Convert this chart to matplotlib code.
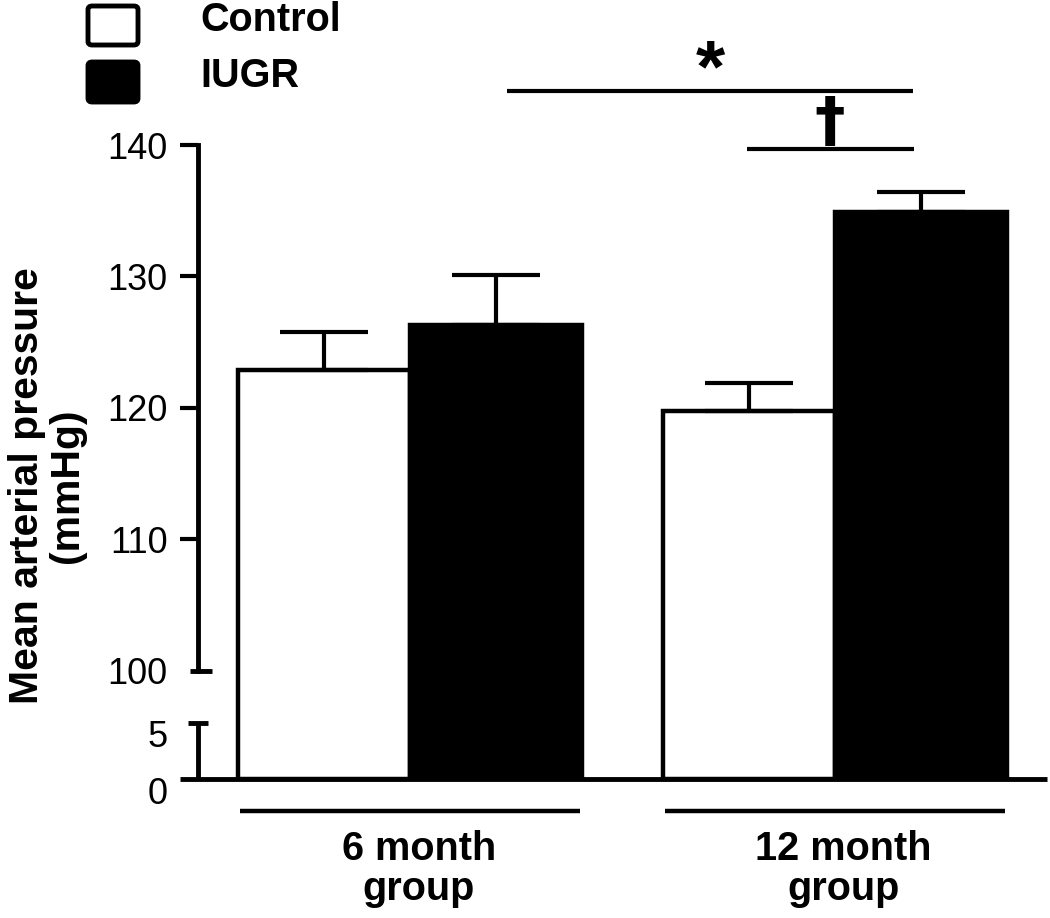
import numpy as np
import matplotlib
matplotlib.use("Agg")
import matplotlib.pyplot as plt
from matplotlib.patches import FancyBboxPatch
import matplotlib.transforms as mtransforms

plt.rcParams['font.family'] = ['Liberation Sans', 'DejaVu Sans']

# ---------------- data ----------------
groups = ["6 month\ngroup", "12 month\ngroup"]
series = ["Control", "IUGR"]
control_vals = [122.9, 119.8]
control_err = [2.9, 2.1]
iugr_vals = [126.3, 134.9]
iugr_err = [3.8, 1.5]
ytick_vals = [0, 5, 100, 110, 120, 130, 140]
ytick_labels = ["0", "5", "100", "110", "120", "130", "140"]
ylabel = "Mean arterial pressure\n(mmHg)"

# ---------------- broken y scale ----------------
Y_KN = np.array([-1000.0, 0.0, 5.0, 100.0, 140.0, 1000.0])
T_KN = np.array([-11200.0, 0.0, 56.0, 108.0, 633.0, 11920.5])

def fwd(y):
    return np.interp(y, Y_KN, T_KN)

def inv(t):
    return np.interp(t, T_KN, Y_KN)

W, H = 1050, 918
fig = plt.figure(figsize=(W / 100, H / 100), dpi=100)
ax_l, ax_r, ax_t, ax_b = 198, 1047, 145, 779
ax = fig.add_axes([ax_l / W, 1 - ax_b / H, (ax_r - ax_l) / W, (ax_b - ax_t) / H])
ax.set_yscale('function', functions=(fwd, inv))
ax.set_ylim(0, 140)
ax.set_xlim(-0.5, 1.5)

x = np.arange(len(groups), dtype=float)
bw = 0.405
xc = x - bw / 2
xi = x + bw / 2

lw = 3.2
ax.bar(xc, control_vals, width=bw, color='white', edgecolor='black', linewidth=lw, zorder=2)
ax.bar(xi, iugr_vals, width=bw, color='black', edgecolor='black', linewidth=lw, zorder=2)
ax.errorbar(xc, control_vals, yerr=[np.zeros(len(groups)), control_err], fmt='none',
            ecolor='black', elinewidth=3, capsize=32, capthick=3, zorder=3)
ax.errorbar(xi, iugr_vals, yerr=[np.zeros(len(groups)), iugr_err], fmt='none',
            ecolor='black', elinewidth=3, capsize=32, capthick=3, zorder=3)

# spines / axes
for s in ax.spines.values():
    s.set_visible(False)
axw = ax_r - ax_l
blend = mtransforms.blended_transform_factory(ax.transAxes, ax.transData)
ax.plot([0, 0], [100, 140], color='black', lw=3.5, transform=blend, clip_on=False,
        solid_capstyle='projecting', zorder=4)
ax.plot([0, 0], [0, 5], color='black', lw=3.5, transform=blend, clip_on=False,
        solid_capstyle='butt', zorder=4)
ax.plot([-8 / axw, 14 / axw], [100, 100], color='black', lw=3.5, transform=blend,
        clip_on=False, solid_capstyle='butt', zorder=4)
ax.plot([-10 / axw, 10 / axw], [5, 5], color='black', lw=3.5, transform=blend,
        clip_on=False, solid_capstyle='butt', zorder=4)
ax.plot([-18 / axw, 1], [0, 0], color='black', lw=3.5, transform=blend,
        clip_on=False, solid_capstyle='butt', zorder=4)

ax.set_yticks(ytick_vals)
ax.set_yticklabels(ytick_labels, fontsize=26)
ax.tick_params(axis='y', direction='out', length=13, width=3, pad=9)
ax.set_xticks([])
ticks = ax.yaxis.get_major_ticks()
for t in ticks[:3]:
    t.tick1line.set_visible(False)
off = mtransforms.ScaledTranslation(0, -11 / 100, fig.dpi_scale_trans)
for t in ticks[:2]:
    t.label1.set_transform(t.label1.get_transform() + off)

# group lines and labels below
bx = mtransforms.blended_transform_factory(ax.transData, ax.transAxes)
gline_y = (ax_b - 811) / (ax_b - ax_t)
for g in x:
    ax.plot([g - bw + 0.005, g + bw - 0.005], [gline_y, gline_y], color='black', lw=3.2,
            transform=bx, clip_on=False, solid_capstyle='butt')
lab_y = (ax_b - 869) / (ax_b - ax_t)
for g, name in zip(x, groups):
    ax.text(g + 0.02, lab_y, name, transform=bx, ha='center', va='center',
            fontsize=28.5, fontweight='bold', linespacing=1.1)

# significance annotations
ax.plot([0.228, 1.184], [144.1, 144.1], color='black', lw=3, clip_on=False,
        solid_capstyle='butt')
ax.text(0.706, 145.6, "*", ha='center', va='center', fontsize=54, fontweight='bold')
ax.plot([0.793, 1.186], [139.7, 139.7], color='black', lw=3, clip_on=False,
        solid_capstyle='butt')
ax.text(0.988, 141.6, "\u2020", ha='center', va='center', fontsize=44, fontweight='bold',
        family='DejaVu Sans')

# y label
fig.text(47 / W, 1 - 486 / H, ylabel, rotation=90, ha='center', va='center',
         fontsize=29.5, fontweight='bold', linespacing=1.08)

# legend
def fig_rect(x0, y0, x1, y1, fc):
    p = FancyBboxPatch((x0 / W, 1 - y1 / H), (x1 - x0) / W, (y1 - y0) / H,
                       boxstyle='round,pad=0,rounding_size=0.004', transform=fig.transFigure,
                       facecolor=fc, edgecolor='black', linewidth=3.5)
    fig.patches.append(p)

fig_rect(88, 6, 138, 45, 'white')
fig_rect(88, 62, 138, 102, 'black')
fig.text(200 / W, 1 - 20 / H, series[0], ha='left', va='center', fontsize=28.5, fontweight='bold')
fig.text(200 / W, 1 - 76 / H, series[1], ha='left', va='center', fontsize=28.5, fontweight='bold')

fig.savefig("out.png", dpi=100)
